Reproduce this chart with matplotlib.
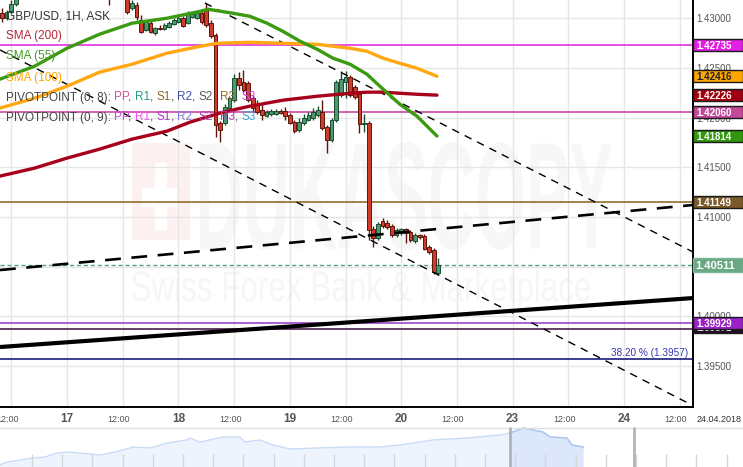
import numpy as np
import matplotlib.pyplot as plt
from matplotlib.patches import Rectangle, PathPatch
from matplotlib.textpath import TextPath
from matplotlib.font_manager import FontProperties
from matplotlib.transforms import Affine2D, IdentityTransform, blended_transform_factory

plt.rcParams['font.family'] = ['Liberation Sans', 'DejaVu Sans']

# hourly candles, hour 0 = 17 Apr 00:00 (weekend gap removed, 23 Apr = hour 96)
hours = np.arange(-14, 81)
opens = [1.43053, 1.43003, 1.43063, 1.43144, 1.43224, 1.43265, 1.43305, 1.43275, 1.43295, 1.43355,
         1.43325, 1.43345, 1.43406, 1.43385, 1.43365, 1.43395, 1.43426, 1.43446, 1.43486, 1.43516,
         1.43567, 1.43536, 1.43436, 1.43335, 1.43265, 1.43285, 1.43305, 1.43244, 1.43103, 1.43134,
         1.42983, 1.42882, 1.42952, 1.42852, 1.42902, 1.42892, 1.42912, 1.42942, 1.42962, 1.43003,
         1.42952, 1.43013, 1.43003, 1.43053, 1.43093, 1.42952, 1.42832, 1.41945, 1.41945, 1.42096,
         1.42177, 1.42399, 1.42358, 1.42348, 1.42197, 1.42127, 1.42076, 1.42016, 1.42036, 1.42036,
         1.42066, 1.42066, 1.42026, 1.41955, 1.41875, 1.41945, 1.41976, 1.41996, 1.42026, 1.42056,
         1.41905, 1.41774, 1.41976, 1.42227, 1.42358, 1.42409, 1.42308, 1.42237, 1.41935, 1.41945,
         1.40878, 1.40787, 1.40959, 1.40938, 1.40908, 1.40818, 1.40838, 1.40878, 1.40848, 1.40757,
         1.40818, 1.40808, 1.40697, 1.40667, 1.40435]
highs = [1.43103, 1.43083, 1.43184, 1.43265, 1.43305, 1.43335, 1.43345, 1.43325, 1.43385, 1.43406,
         1.43375, 1.43436, 1.43446, 1.43426, 1.43416, 1.43456, 1.43486, 1.43516, 1.43547, 1.43587,
         1.43637, 1.43587, 1.43506, 1.43406, 1.43325, 1.43365, 1.43345, 1.43285, 1.43184, 1.43164,
         1.43033, 1.42983, 1.42973, 1.42912, 1.42932, 1.42952, 1.42973, 1.43003, 1.43023, 1.43023,
         1.43073, 1.43063, 1.43063, 1.43073, 1.43154, 1.42983, 1.42852, 1.41966, 1.42137, 1.42217,
         1.42439, 1.42459, 1.42479, 1.42368, 1.42227, 1.42177, 1.42137, 1.42076, 1.42086, 1.42086,
         1.42086, 1.42107, 1.42046, 1.41976, 1.41996, 1.42036, 1.42056, 1.42096, 1.42117, 1.42177,
         1.41925, 1.41996, 1.42378, 1.42469, 1.42469, 1.42429, 1.42328, 1.42258, 1.42036, 1.41966,
         1.40908, 1.40949, 1.40989, 1.40969, 1.40928, 1.40888, 1.40888, 1.40888, 1.40868, 1.40838,
         1.40828, 1.40828, 1.40717, 1.40687, 1.40586]
lows = [1.42962, 1.42983, 1.43043, 1.43124, 1.43194, 1.43234, 1.43244, 1.43224, 1.43265, 1.43305,
        1.43285, 1.43315, 1.43365, 1.43335, 1.43325, 1.43355, 1.43385, 1.43406, 1.43436, 1.43466,
        1.43486, 1.43406, 1.43285, 1.43134, 1.43204, 1.43224, 1.43214, 1.43043, 1.43083, 1.42983,
        1.42852, 1.42872, 1.42852, 1.42832, 1.42882, 1.42882, 1.42902, 1.42932, 1.42952, 1.42912,
        1.42942, 1.43003, 1.42993, 1.42942, 1.42912, 1.42801, 1.41804, 1.41754, 1.41925, 1.42076,
        1.42157, 1.42278, 1.42258, 1.42157, 1.42056, 1.42036, 1.41976, 1.42006, 1.42016, 1.42026,
        1.42036, 1.41976, 1.41935, 1.41845, 1.41855, 1.41925, 1.41966, 1.41976, 1.42006, 1.41875,
        1.41643, 1.41754, 1.41955, 1.42207, 1.42197, 1.42207, 1.42187, 1.41845, 1.41855, 1.40767,
        1.40697, 1.40767, 1.40888, 1.40878, 1.40798, 1.40798, 1.40818, 1.40737, 1.40747, 1.40737,
        1.40777, 1.40667, 1.40626, 1.40425, 1.40415]
closes = [1.43003, 1.43063, 1.43144, 1.43224, 1.43265, 1.43305, 1.43275, 1.43295, 1.43355, 1.43325,
          1.43345, 1.43406, 1.43385, 1.43365, 1.43395, 1.43426, 1.43446, 1.43486, 1.43516, 1.43567,
          1.43536, 1.43436, 1.43335, 1.43265, 1.43285, 1.43305, 1.43244, 1.43063, 1.43154, 1.43013,
          1.42862, 1.42962, 1.42862, 1.42902, 1.42892, 1.42932, 1.42952, 1.42983, 1.43003, 1.42922,
          1.43053, 1.43043, 1.43053, 1.42962, 1.42932, 1.42821, 1.41925, 1.41875, 1.42107, 1.42197,
          1.42399, 1.42328, 1.42278, 1.42177, 1.42096, 1.42056, 1.42026, 1.42056, 1.42066, 1.42066,
          1.42046, 1.42016, 1.41945, 1.41865, 1.41955, 1.41996, 1.42026, 1.42056, 1.42076, 1.41895,
          1.41774, 1.41976, 1.42358, 1.42389, 1.42409, 1.42227, 1.42207, 1.41935, 1.41945, 1.40868,
          1.40787, 1.40928, 1.40908, 1.40898, 1.40818, 1.40868, 1.40878, 1.40838, 1.40767, 1.40818,
          1.40798, 1.40677, 1.40646, 1.40445, 1.40511]

# moving averages
sma50_h = [-14.5, -7, 0, 7, 14, 21.5, 28.7, 30.4, 35.8, 39.4, 43.1, 46.5, 50.2, 53.9, 57.3, 61, 64.6, 68.1, 71.7, 75.4, 79.7]
sma50_v = [1.42386, 1.42517, 1.42698, 1.42839, 1.42950, 1.43000, 1.43070, 1.43091, 1.43050, 1.43020, 1.42950,
           1.42869, 1.42769, 1.42688, 1.42598, 1.42537, 1.42437, 1.42286, 1.42135, 1.42014, 1.41814]
sma100_h = [-14.5, -7, 0, 7, 14, 21.5, 28.7, 32.3, 39.4, 46.5, 53.9, 61, 64.6, 68.1, 71.7, 75.4, 79.7]
sma100_v = [1.42095, 1.42195, 1.42316, 1.42457, 1.42537, 1.42648, 1.42718, 1.42748, 1.42758, 1.42748, 1.42738,
            1.42698, 1.42668, 1.42598, 1.42547, 1.42497, 1.42416]
sma200_h = [-14.5, -7, 0, 7, 14, 21.5, 26.5, 33.6, 39.4, 46.5, 53.9, 61, 64.6, 68.1, 71.7, 75.4, 79.7]
sma200_v = [1.41410, 1.41491, 1.41592, 1.41682, 1.41783, 1.41863, 1.41954, 1.42054, 1.42115, 1.42175, 1.42215,
            1.42245, 1.42256, 1.42256, 1.42245, 1.42235, 1.42226]

# drawn trend lines (two end points each)
chan_up_h, chan_up_v = [29.7, 134.9], [1.43154, 1.40646]
chan_lo_h, chan_lo_v = [-14.43, 134.2], [1.42681, 1.39116]
trend_dash_h, trend_dash_v = [-14.43, 134.86], [1.40465, 1.41120]
trend_solid_h, trend_solid_v = [-14.43, 134.86], [1.39690, 1.40183]

# horizontal levels and their price tags
levels = [1.42735, 1.42060, 1.41149, 1.39929, 1.39871]
level_colors = ['#e01fe0', '#c8399e', '#8a6218', '#9a35c4', '#3a0d3a']
fib_value = 1.3957
fib_label = '38.20 % (1.3957)'
last_price = 1.40511

tag_values = [1.42735, 1.42416, 1.42226, 1.42060, 1.41814, 1.41149, 1.39871, 1.39929]
tag_shift = [0, 0, 0, 0, 0, 0, 2, 0]  # pixels upward, the dark tag slides under the purple one
tag_fc = ['#e21fe2', '#ffa500', '#a0000f', '#c4489a', '#2f980c', '#7b5a2a', '#2a0a2a', '#9b22c9']
tag_tc = ['white', '#222222', 'white', 'white', 'white', 'white', 'white', 'white']

day_ticks = np.arange(-12, 133, 12)
day_labels = ['12:00', '17', '12:00', '18', '12:00', '19', '12:00', '20', '12:00', '23', '12:00', '24', '12:00']
price_ticks = [1.395, 1.400, 1.405, 1.410, 1.415, 1.420, 1.425, 1.430]
price_labels = ['1.39500', '1.40000', '', '1.41000', '1.41500', '1.42000', '1.42500', '1.43000']

# navigator overview
nav_x = [0, 7, 15, 20, 33, 45, 57, 67, 80, 100, 115, 130, 133, 150, 167, 187, 190, 200, 223, 240, 245, 260,
         273, 290, 317, 350, 380, 400, 433, 467, 500, 510, 523, 543, 550, 567, 572, 583]
nav_v = [2, 5, 6, 7, 9, 10, 14, 15, 14, 12, 15, 19, 20, 19, 24, 27, 29, 25, 30, 30, 25, 27,
         22, 18, 19, 20, 20, 22, 27, 29, 32, 34, 39, 35, 30, 29, 22, 20]

W, H = 743, 467
PX = 0.0001007  # price per pixel
fig = plt.figure(figsize=(W / 100, H / 100), dpi=100)
fig.patch.set_facecolor('white')
ax = fig.add_axes([0, 60 / H, 693 / W, 407 / H])
ax.set_xlim(-14.43, 134.86)
ax.set_ylim(1.39086, 1.43184)

ax.set_xticks(day_ticks)
ax.set_xticklabels([])
ax.set_yticks(price_ticks)
ax.set_yticklabels(price_labels)
ax.yaxis.tick_right()
ax.tick_params(length=0, labelsize=7, labelcolor='#555555', pad=2.5)
ax.grid(color='#e6e6e6', lw=1)
for s in ['top', 'left']:
    ax.spines[s].set_visible(False)
for s in ['right', 'bottom']:
    ax.spines[s].set_color('black')
    ax.spines[s].set_linewidth(1.4)


# watermark
def stretched(s, x0, y0, x1, y1, color, weight):
    tp = TextPath((0, 0), s, size=100, prop=FontProperties(family='Liberation Sans', weight=weight))
    bb = tp.get_extents()
    tr = Affine2D().translate(-bb.x0, -bb.y0).scale((x1 - x0) / bb.width, (y1 - y0) / bb.height).translate(x0, H - y1)
    ax.add_patch(PathPatch(tp, fc=color, ec='none', transform=tr, zorder=1))


fig_px = IdentityTransform()
ax.add_patch(Rectangle((132, H - 240), 58, 97, transform=fig_px, fc='#fdf0f0', ec='none', zorder=1))
ax.add_patch(Rectangle((155, H - 230), 12, 67, transform=fig_px, fc='white', ec='none', zorder=1))
ax.add_patch(Rectangle((142, H - 207), 35, 19, transform=fig_px, fc='white', ec='none', zorder=1))
stretched('DUKASCOPY', 200, 142, 612, 250, '#f7f7f7', 'bold')
stretched('Swiss Forex Bank & Marketplace', 132, 270, 590, 310, '#f6f6f6', 'normal')

# levels
for v, c in zip(levels, level_colors):
    ax.axhline(v, color=c, lw=1.1, zorder=2)
ax.axhline(fib_value, color='#1b1b82', lw=1.2, zorder=2)
ax.axhline(last_price, color='#5a9f7c', lw=1, ls=(0, (3, 2)), zorder=2)
ax.text(688 / 693, fib_value + 6 * PX, fib_label, transform=blended_transform_factory(ax.transAxes, ax.transData),
        ha='right', va='center', fontsize=7.2, color='#3535b0', zorder=3)

# candles
o, hi, lo, c = map(np.array, (opens, highs, lows, closes))
up = c >= o
edge = np.where(up, '#1d4d31', '#5c150a')
fill = np.where(up, '#4c9a70', '#cf3c2b')
ax.vlines(hours, lo, hi, colors=edge, lw=1, zorder=3)
ax.bar(hours, np.maximum(np.abs(c - o), 0.00003), bottom=np.minimum(o, c), width=0.8,
       color=fill, edgecolor=edge, lw=0.7, zorder=4)

# trend lines
ax.plot(chan_up_h, chan_up_v, color='black', lw=1, dashes=(5.5, 4.5), zorder=5)
ax.plot(chan_lo_h, chan_lo_v, color='black', lw=1, dashes=(5.5, 4.5), zorder=5)
ax.plot(trend_dash_h, trend_dash_v, color='black', lw=1.9, dashes=(6, 4), zorder=5)
ax.plot(trend_solid_h, trend_solid_v, color='black', lw=3, zorder=5, solid_capstyle='butt')

# moving averages
ax.plot(sma200_h, sma200_v, color='#a8001c', lw=2.4, zorder=6, solid_capstyle='round')
ax.plot(sma100_h, sma100_v, color='#ffa812', lw=2.4, zorder=6, solid_capstyle='round')
ax.plot(sma50_h, sma50_v, color='#3a9a10', lw=2.4, zorder=6, solid_capstyle='round')

# price tags on the right, each one stacked above the previous
tr_ay = blended_transform_factory(ax.transAxes, ax.transData)
for i, (v, sh, fc, tc) in enumerate(zip(tag_values, tag_shift, tag_fc, tag_tc)):
    hh = 12 * PX
    yc = v + sh * PX
    ax.add_patch(Rectangle((1.0, yc - hh / 2), 50 / 693, hh, transform=tr_ay, fc=fc, ec='#1a1a1a', lw=1,
                           clip_on=False, zorder=8 + 2 * i))
    ax.text(1.0 + 3 / 693, yc, f'{v:.5f}', transform=tr_ay, color=tc, fontsize=7, fontweight='bold',
            va='center_baseline', ha='left', clip_on=False, zorder=9 + 2 * i)
hh = 14 * PX
ax.add_patch(Rectangle((1.0, last_price - hh / 2), 50 / 693, hh, transform=tr_ay, fc='#69a885', ec='#7fb597',
                       lw=1, clip_on=False, zorder=30))
ax.text(1.0 + 2 / 693, last_price, f'{last_price:.5f}', transform=tr_ay, color='white', fontsize=8,
        fontweight='bold', va='center_baseline', ha='left', clip_on=False, zorder=31)

# x labels
for t, lab in zip(day_ticks, day_labels):
    bold = lab != '12:00'
    ax.text(t if bold else t - 0.85, -12 / 407, lab, transform=ax.get_xaxis_transform(), ha='center',
            va='center', fontsize=8.5 if bold else 6.5, fontweight='bold' if bold else 'normal',
            color='#555555', clip_on=False)
ax.text(697 / 693, -12 / 407, '24.04.2018', transform=ax.transAxes, ha='left', va='center',
        fontsize=6.5, color='#333333', clip_on=False)

# legend text in the top-left corner
renderer = fig.canvas.get_renderer()


def text_width(s, fs):
    t = fig.text(0, 0, s, fontsize=fs, transform=fig_px)
    w = t.get_window_extent(renderer).width
    t.remove()
    return w


def rich_line(x0, y_img, parts, fs=8.5):
    prefix = ''
    for s, col in parts:
        prefix += s
        x = x0 + text_width(prefix, fs)
        fig.text(x, H - y_img, s.strip(), color=col, fontsize=fs, transform=fig_px,
                 ha='right', va='center_baseline', zorder=20)


g = '#444444'
rich_line(6, 15, [('GBP/USD, 1H, ASK', '#333333')])
rich_line(6, 35, [('SMA (200)', '#b5283a')])
rich_line(6, 55, [('SMA (55)', '#3f9a1f')])
rich_line(6, 76, [('SMA (100)', '#ffa500')])
rich_line(6, 96, [('PIVOTPOINT (0, 8):', g), (' PP', '#d2529e'), (',', g), (' R1', '#22a07c'), (',', g),
                  (' S1', '#8c6a2c'), (',', g), (' R2', '#4050a8'), (',', g), (' S2', '#5a5a5a'), (',', g),
                  (' R3', '#9a6b1c'), (',', g), (' S3', '#e23ee2')])
rich_line(6, 116, [('PIVOTPOINT (0, 9):', g), (' PP', '#c24ae0'), (',', g), (' R1', '#f252f0'), (',', g),
                   (' S1', '#a83cc6'), (',', g), (' R2', '#7c7cd8'), (',', g), (' S2', '#b03cb0'), (',', g),
                   (' R3', '#a842c4'), (',', g), (' S3', '#3aa8d0')])

# navigator
nav = fig.add_axes([0, 0, 1, 40 / H])
nav.set_xlim(0, W)
nav.set_ylim(0, 40)
nav.axis('off')
nx, nv = np.array(nav_x), np.array(nav_v)
nav.fill_between(nx, 0, nv, color='#eef4fd', lw=0)
sel = nx >= 510
nav.fill_between(nx[sel], 0, nv[sel], color='#dce7fb', lw=0)
nav.plot(nx, nv, color='#c9dbf5', lw=1)
nav.plot(nx[sel], nv[sel], color='#a9c6f0', lw=1)
nav.vlines(np.arange(32, W, 30.2), 0, 13, color='#d6d6d6', lw=1)
nav.axhline(39.5, color='#dddddd', lw=1)
nav.vlines([510, 634], 0, 40, color='#b3b3b3', lw=2)

fig.savefig('out.png', dpi=100)
